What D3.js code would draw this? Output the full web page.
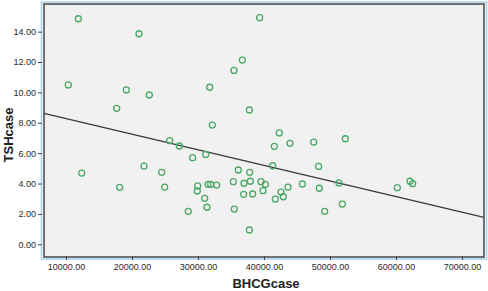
<!DOCTYPE html>
<html>
<head>
<meta charset="utf-8">
<script src="https://cdn.jsdelivr.net/npm/d3@7"></script>
<style>
  body { margin: 0; background: #fff; }
  svg { display: block; font-family: "Liberation Sans", Arial, sans-serif; }
</style>
</head>
<body>
<svg id="chart" width="488" height="291"></svg>
<script>
// BHCGcase values (x) and TSHcase values (y)
var bhcg = [11870, 10350, 21060, 19140, 17680, 22620, 31770, 35450, 36720, 32170,
            37780, 25700, 27170, 39340, 42320, 41560, 43940, 47530, 52320, 29190,
            31170, 12380, 21820, 24500, 18130, 24950, 29950, 29900, 31520, 31920,
            32830, 28530, 31010, 31360, 35350, 36110, 36970, 35500, 36920, 37830,
            37930, 37780, 38280, 41310, 48280, 39550, 40200, 39850, 42580, 42930,
            41720, 43640, 45810, 48380, 51360, 51870, 49190, 60200, 62120, 62530];
var tsh  = [14.85, 10.49, 13.86, 10.16, 8.95, 9.83, 10.34, 11.45, 12.13, 7.85,
            8.84, 6.82, 6.47, 14.92, 7.33, 6.45, 6.65, 6.73, 6.95, 5.70,
            5.92, 4.69, 5.15, 4.74, 3.75, 3.77, 3.84, 3.51, 3.95, 3.95,
            3.90, 2.17, 3.03, 2.44, 4.12, 4.89, 4.02, 2.32, 3.29, 4.74,
            4.15, 0.94, 3.31, 5.17, 5.13, 4.12, 3.95, 3.53, 3.44, 3.13,
            2.98, 3.77, 3.97, 3.69, 4.04, 2.65, 2.17, 3.73, 4.15, 3.99];
// fitted line: TSH = intercept + slope * BHCG
var intercept = 9.30;
var slope = -0.0001026;

var xTicks = [10000, 20000, 30000, 40000, 50000, 60000, 70000];
var yTicks = [0, 2, 4, 6, 8, 10, 12, 14];

var svg = d3.select("#chart");
var box = {left: 44, right: 484, top: 4, bottom: 257};

var xScale = d3.scaleLinear()
    .domain([6667, 73333])
    .range([box.left, box.right]);
var yScale = d3.scaleLinear()
    .domain([-0.836, 15.82])
    .range([box.bottom, box.top]);

// light blue outer frame
svg.append("rect")
    .attr("x", box.left - 2.5).attr("y", box.top - 2)
    .attr("width", box.right - box.left + 5).attr("height", box.bottom - box.top + 4)
    .attr("fill", "none").attr("stroke", "#a9d0ee").attr("stroke-width", 1.5);

// plot area
svg.append("rect")
    .attr("x", box.left).attr("y", box.top)
    .attr("width", box.right - box.left).attr("height", box.bottom - box.top)
    .attr("fill", "#f1f1f1");

// regression line
var x0 = xScale.domain()[0], x1 = xScale.domain()[1];
svg.append("line")
    .attr("x1", xScale(x0)).attr("y1", yScale(intercept + slope * x0))
    .attr("x2", xScale(x1)).attr("y2", yScale(intercept + slope * x1))
    .attr("stroke", "#3a3a3a").attr("stroke-width", 1.3);

// points
svg.selectAll(".pt")
    .data(d3.range(bhcg.length))
    .enter()
    .append("circle")
        .classed("pt", true)
        .attr("cx", i => xScale(bhcg[i]))
        .attr("cy", i => yScale(tsh[i]))
        .attr("r", 3)
        .attr("fill", "none")
        .attr("stroke", "#4aa865")
        .attr("stroke-width", 1.3);

// dark frame
svg.append("rect")
    .attr("x", box.left).attr("y", box.top)
    .attr("width", box.right - box.left).attr("height", box.bottom - box.top)
    .attr("fill", "none").attr("stroke", "#444").attr("stroke-width", 1.5);

// axes
var xAxis = d3.axisBottom(xScale)
    .tickValues(xTicks)
    .tickSize(4)
    .tickPadding(4)
    .tickFormat(d3.format(".2f"));
svg.append("g")
    .attr("transform", "translate(0," + (box.bottom - 1) + ")")
    .call(xAxis)
    .call(g => g.select(".domain").remove());

var yAxis = d3.axisLeft(yScale)
    .tickValues(yTicks)
    .tickSize(4)
    .tickPadding(2)
    .tickFormat(d3.format(".2f"));
svg.append("g")
    .attr("transform", "translate(" + (box.left - 2) + ",0)")
    .call(yAxis)
    .call(g => g.select(".domain").remove());

svg.selectAll(".tick line").attr("stroke", "#444");
svg.selectAll(".tick text")
    .attr("fill", "#2a2a2a")
    .style("font-size", "9px")
    .style("font-family", "'Liberation Sans', Arial, sans-serif");

// axis titles
svg.append("text")
    .attr("x", 266).attr("y", 288)
    .style("text-anchor", "middle")
    .style("font-size", "13px")
    .style("font-weight", "bold")
    .attr("fill", "#222")
    .text("BHCGcase");

svg.append("text")
    .attr("transform", "rotate(-90)")
    .attr("x", -135).attr("y", 13)
    .style("text-anchor", "middle")
    .style("font-size", "13px")
    .style("font-weight", "bold")
    .attr("fill", "#222")
    .text("TSHcase");
</script>
</body>
</html>
